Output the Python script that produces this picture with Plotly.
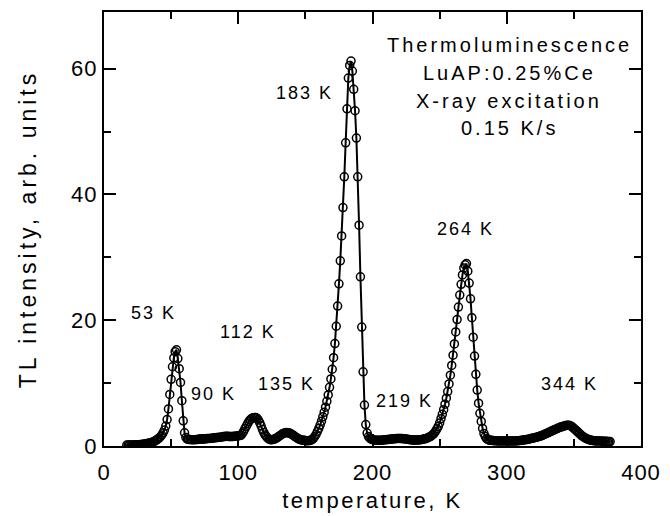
import plotly.graph_objects as go

temperature_K = [
    17, 18, 19, 20, 21, 22, 23, 24, 25, 26,
    27, 28, 29, 30, 31, 32, 33, 34, 35, 36,
    37, 38, 39, 40, 41, 42, 43, 44, 45, 46,
    47, 48, 49, 50, 51, 52, 53, 54, 55, 56,
    57, 58, 59, 60, 61, 62, 63, 64, 65, 66,
    67, 68, 69, 70, 71, 72, 73, 74, 75, 76,
    77, 78, 79, 80, 81, 82, 83, 84, 85, 86,
    87, 88, 89, 90, 91, 92, 93, 94, 95, 96,
    97, 98, 99, 100, 101, 102, 103, 104, 105, 106,
    107, 108, 109, 110, 111, 112, 113, 114, 115, 116,
    117, 118, 119, 120, 121, 122, 123, 124, 125, 126,
    127, 128, 129, 130, 131, 132, 133, 134, 135, 136,
    137, 138, 139, 140, 141, 142, 143, 144, 145, 146,
    147, 148, 149, 150, 151, 152, 153, 154, 155, 156,
    157, 158, 159, 160, 161, 162, 163, 164, 165, 166,
    167, 168, 169, 170, 171, 172, 173, 174, 175, 176,
    177, 178, 179, 180, 181, 182, 183, 184, 185, 186,
    187, 188, 189, 190, 191, 192, 193, 194, 195, 196,
    197, 198, 199, 200, 201, 202, 203, 204, 205, 206,
    207, 208, 209, 210, 211, 212, 213, 214, 215, 216,
    217, 218, 219, 220, 221, 222, 223, 224, 225, 226,
    227, 228, 229, 230, 231, 232, 233, 234, 235, 236,
    237, 238, 239, 240, 241, 242, 243, 244, 245, 246,
    247, 248, 249, 250, 251, 252, 253, 254, 255, 256,
    257, 258, 259, 260, 261, 262, 263, 264, 265, 266,
    267, 268, 269, 270, 271, 272, 273, 274, 275, 276,
    277, 278, 279, 280, 281, 282, 283, 284, 285, 286,
    287, 288, 289, 290, 291, 292, 293, 294, 295, 296,
    297, 298, 299, 300, 301, 302, 303, 304, 305, 306,
    307, 308, 309, 310, 311, 312, 313, 314, 315, 316,
    317, 318, 319, 320, 321, 322, 323, 324, 325, 326,
    327, 328, 329, 330, 331, 332, 333, 334, 335, 336,
    337, 338, 339, 340, 341, 342, 343, 344, 345, 346,
    347, 348, 349, 350, 351, 352, 353, 354, 355, 356,
    357, 358, 359, 360, 361, 362, 363, 364, 365, 366,
    367, 368, 369, 370, 371, 372, 373, 374, 375, 376,
    377,
]

tl_intensity = [
    0.15, 0.15, 0.15, 0.15, 0.15, 0.15, 0.19, 0.2, 0.2, 0.2,
    0.24, 0.25, 0.29, 0.3, 0.34, 0.39, 0.43, 0.48, 0.53, 0.61,
    0.71, 0.81, 0.94, 1.08, 1.26, 1.47, 1.75, 2.09, 2.53, 3.16,
    4.2, 5.9, 8.2, 10.6, 12.6, 14.0, 15.0, 15.3, 13.9, 12.3,
    10.1, 7.2, 4.0, 2.1, 1.35, 1.09, 1.05, 1.05, 1.0, 1.0,
    1.0, 1.0, 1.05, 1.05, 1.1, 1.1, 1.1, 1.1, 1.15, 1.15,
    1.2, 1.2, 1.2, 1.25, 1.25, 1.3, 1.3, 1.35, 1.35, 1.4,
    1.4, 1.45, 1.5, 1.5, 1.55, 1.55, 1.5, 1.5, 1.5, 1.5,
    1.55, 1.55, 1.6, 1.6, 1.65, 1.7, 1.98, 2.32, 2.75, 3.15,
    3.54, 3.93, 4.18, 4.39, 4.51, 4.55, 4.52, 4.4, 4.12, 3.7,
    3.2, 2.62, 2.15, 1.76, 1.47, 1.23, 1.1, 1.0, 1.0, 1.05,
    1.1, 1.2, 1.34, 1.49, 1.64, 1.79, 1.93, 2.04, 2.09, 2.14,
    2.11, 2.06, 1.97, 1.84, 1.69, 1.54, 1.4, 1.25, 1.13, 1.03,
    0.97, 0.92, 0.9, 0.87, 0.85, 0.85, 0.87, 0.92, 1.02, 1.22,
    1.51, 1.87, 2.31, 2.8, 3.33, 3.95, 4.64, 5.36, 6.18, 7.1,
    8.12, 9.33, 10.66, 12.2, 14.04, 16.29, 19.04, 22.24, 25.78, 29.44,
    33.4, 37.9, 42.8, 48.2, 53.6, 58.5, 60.5, 61.2, 59.6, 56.7,
    53.3, 48.95, 42.8, 35.1, 26.9, 18.9, 11.8, 6.5, 3.4, 2.05,
    1.5, 1.26, 1.1, 1.02, 0.97, 0.92, 0.9, 0.9, 0.9, 0.9,
    0.92, 0.95, 0.98, 1.0, 1.02, 1.05, 1.07, 1.1, 1.12, 1.15,
    1.17, 1.2, 1.2, 1.2, 1.2, 1.19, 1.15, 1.14, 1.1, 1.09,
    1.04, 1.0, 0.99, 0.95, 0.95, 0.95, 0.95, 0.95, 1.0, 1.0,
    1.05, 1.1, 1.15, 1.2, 1.29, 1.39, 1.49, 1.64, 1.83, 2.06,
    2.35, 2.73, 3.12, 3.67, 4.34, 5.03, 5.78, 6.65, 7.6, 8.65,
    9.86, 11.26, 12.81, 14.44, 16.22, 18.14, 20.1, 22.08, 23.99, 25.7,
    27.2, 28.3, 28.8, 29.0, 27.8, 25.9, 23.4, 20.4, 17.3, 14.3,
    11.4, 8.9, 6.8, 5.2, 3.9, 2.8, 2.0, 1.5, 1.17, 1.0,
    0.95, 0.9, 0.9, 0.85, 0.85, 0.85, 0.8, 0.8, 0.8, 0.8,
    0.8, 0.8, 0.8, 0.8, 0.8, 0.8, 0.8, 0.8, 0.8, 0.8,
    0.8, 0.84, 0.85, 0.89, 0.9, 0.93, 0.98, 1.0, 1.03, 1.08,
    1.13, 1.18, 1.23, 1.28, 1.33, 1.38, 1.45, 1.52, 1.57, 1.64,
    1.74, 1.84, 1.94, 2.04, 2.13, 2.23, 2.33, 2.43, 2.53, 2.63,
    2.72, 2.82, 2.92, 3.01, 3.06, 3.11, 3.21, 3.26, 3.3, 3.3,
    3.25, 3.15, 3.0, 2.8, 2.6, 2.41, 2.21, 2.02, 1.82, 1.62,
    1.47, 1.32, 1.22, 1.12, 1.02, 0.96, 0.91, 0.86, 0.85, 0.81,
    0.8, 0.8, 0.8, 0.8, 0.77, 0.75, 0.75, 0.75, 0.72, 0.7,
    0.7,
]

peak_labels = ["53 K", "90 K", "112 K", "135 K", "183 K", "219 K", "264 K", "344 K"]
peak_label_T = [36.5, 81.9, 107.3, 135.6, 149.7, 224.2, 269.6, 347.1]
peak_label_I = [21.1, 8.3, 18.1, 9.9, 56.1, 7.2, 34.5, 9.9]

info_lines = ["Thermoluminescence", "LuAP:0.25%Ce", "X-ray excitation", "0.15 K/s"]
info_T = [301.7, 301.7, 301.7, 301.7]
info_I = [63.8, 59.3, 54.9, 50.6]

x_ticks = [0, 100, 200, 300, 400]
y_ticks = [0, 20, 40, 60]

FONT = "Liberation Sans, Arial, Helvetica, sans-serif"

fig = go.Figure()
fig.add_trace(go.Scatter(
    x=temperature_K, y=tl_intensity, mode="markers",
    marker=dict(symbol="circle-open", size=8, color="black", line=dict(width=1.5, color="black")),
    showlegend=False, hoverinfo="skip"))
fig.add_trace(go.Scatter(
    x=temperature_K, y=tl_intensity, mode="lines",
    line=dict(color="black", width=2), showlegend=False, hoverinfo="skip"))

for txt, tx, ty in zip(peak_labels, peak_label_T, peak_label_I):
    fig.add_annotation(x=tx, y=ty, text=txt, showarrow=False,
                       font=dict(family=FONT, size=18, color="black"),
                       xanchor="center", yanchor="middle")
for txt, tx, ty in zip(info_lines, info_T, info_I):
    fig.add_annotation(x=tx, y=ty, text=txt, showarrow=False,
                       font=dict(family=FONT, size=20, color="black"),
                       xanchor="center", yanchor="middle")

axis_common = dict(
    showline=True, linecolor="black", linewidth=2, mirror="allticks",
    ticks="inside", ticklen=12, tickwidth=1.5, tickcolor="black",
    showgrid=False, zeroline=False,
    tickfont=dict(family=FONT, size=22, color="black"),
)
fig.update_xaxes(range=[0, 400], tickvals=x_ticks, ticklabelstandoff=6,
                 minor=dict(dtick=50, ticks="inside", ticklen=7, tickwidth=1.5, tickcolor="black"),
                 title=dict(text="temperature, K", font=dict(family=FONT, size=22, color="black"), standoff=8),
                 **axis_common)
fig.update_yaxes(range=[0, 69], tickvals=y_ticks,
                 minor=dict(dtick=10, ticks="inside", ticklen=7, tickwidth=1.5, tickcolor="black"),
                 title=dict(text="TL intensity, arb. units", font=dict(family=FONT, size=23, color="black"), standoff=30),
                 **axis_common)

fig.update_layout(
    width=670, height=516,
    margin=dict(l=104, r=29, t=12, b=70, autoexpand=False),
    paper_bgcolor="white", plot_bgcolor="white",
    font=dict(family=FONT, color="black"),
)

post = """
var sty = document.createElement('style');
sty.textContent = '.xtick text, .ytick text {letter-spacing: 1px;} .g-xtitle text {letter-spacing: 2.5px;} .g-ytitle text {letter-spacing: 4px;} .annotation-text {letter-spacing: 2px;}';
document.head.appendChild(sty);
var gd = document.querySelectorAll('.plotly-graph-div')[0];
var infoTexts = ['Thermoluminescence', 'LuAP:0.25%Ce', 'X-ray excitation', '0.15 K/s'];
gd.querySelectorAll('.annotation-text').forEach(function(t){
  if (infoTexts.indexOf(t.textContent) >= 0) { t.style.letterSpacing = '3px'; }
});
"""
fig.write_html("out.html", post_script=post)
